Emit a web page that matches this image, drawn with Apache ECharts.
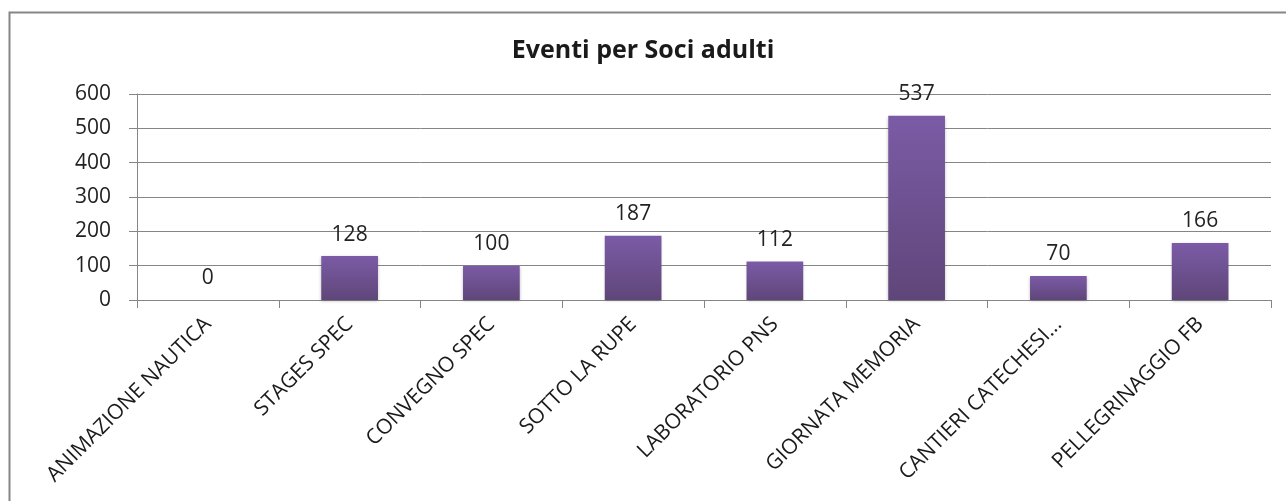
<!DOCTYPE html>
<html><head><meta charset="utf-8">
<script src="https://cdn.jsdelivr.net/npm/echarts@6/dist/echarts.min.js"></script>
<style>html,body{margin:0;padding:0;background:#fff}#c{width:1286px;height:501px}</style>
</head><body><div id="c"></div>
<script>
const title = 'Eventi per Soci adulti';
const categories = ['ANIMAZIONE NAUTICA','STAGES SPEC','CONVEGNO SPEC','SOTTO LA RUPE','LABORATORIO PNS','GIORNATA MEMORIA','CANTIERI CATECHESI...','PELLEGRINAGGIO FB'];
const values = [0,128,100,187,112,537,70,166];
const yTicks = [0,100,200,300,400,500,600];

const chart = echarts.init(document.getElementById('c'), null, {renderer:'canvas'});
const font = '"Open Sans", "Liberation Sans", sans-serif';
chart.setOption({
  animation:false,
  backgroundColor:'#fff',
  graphic:[{type:'rect',shape:{x:9.5,y:12.5,width:1300,height:520},style:{fill:'none',stroke:'#868686',lineWidth:2},z:-1}],
  title:{text:title,left:'center',top:33,textStyle:{fontFamily:font,fontSize:25,fontWeight:'bold',color:'#1a1a1a'}},
  grid:{left:137,right:15,top:94,bottom:201,containLabel:false},
  xAxis:{type:'category',data:categories,
    axisLine:{lineStyle:{color:'#868686',width:1}},
    axisTick:{show:true,length:8,alignWithLabel:false,lineStyle:{color:'#868686'}},
    axisLabel:{rotate:45,interval:0,margin:21,fontFamily:font,fontSize:21,color:'#1a1a1a'}},
  yAxis:{type:'value',min:0,max:600,interval:100,
    axisLine:{show:true,lineStyle:{color:'#868686'}},
    axisTick:{show:true,length:8,lineStyle:{color:'#868686'}},
    splitLine:{lineStyle:{color:'#868686',width:1}},
    axisLabel:{fontFamily:font,fontSize:21,color:'#222',margin:26,
      formatter:v=>yTicks.includes(v)?String(v):''}},
  series:[{type:'bar',data:values,barWidth:'40%',
    itemStyle:{color:new echarts.graphic.LinearGradient(0,0,0,1,[{offset:0,color:'#7b5ba6'},{offset:1,color:'#5f4679'}]),
      shadowColor:'rgba(0,0,0,0.25)',shadowBlur:3,shadowOffsetY:1},
    label:{show:true,position:'top',distance:11,fontFamily:font,fontSize:21,color:'#222'}}]
});
</script></body></html>
